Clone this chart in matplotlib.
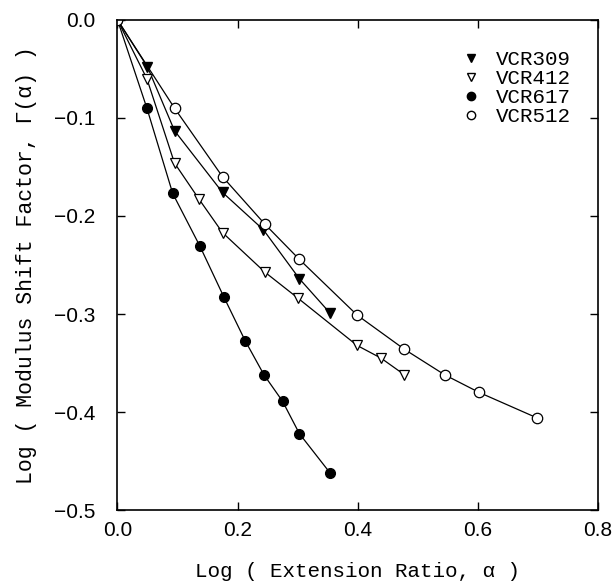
import matplotlib
matplotlib.use("Agg")
import matplotlib.pyplot as plt
from matplotlib.lines import Line2D

# data: log(extension ratio) vs log(modulus shift factor)
x_309 = [0.0, 0.050, 0.095, 0.175, 0.243, 0.303, 0.354]
y_309 = [0.0, -0.048, -0.113, -0.176, -0.214, -0.264, -0.299]

x_412 = [0.0, 0.049, 0.095, 0.136, 0.175, 0.245, 0.301, 0.399, 0.439, 0.478]
y_412 = [0.0, -0.060, -0.146, -0.183, -0.217, -0.257, -0.284, -0.332, -0.345, -0.362]

x_617 = [0.0, 0.049, 0.092, 0.1375, 0.1775, 0.2125, 0.244, 0.275, 0.303, 0.354]
y_617 = [0.0, -0.090, -0.177, -0.231, -0.283, -0.327, -0.362, -0.389, -0.422, -0.462]

x_512 = [0.0, 0.095, 0.175, 0.245, 0.3025, 0.399, 0.478, 0.545, 0.6025, 0.699]
y_512 = [0.0, -0.090, -0.160, -0.208, -0.244, -0.301, -0.336, -0.362, -0.380, -0.406]

labels = ['VCR309', 'VCR412', 'VCR617', 'VCR512']

mono = 'Liberation Mono'
sans = 'Liberation Sans'

fig = plt.figure(figsize=(6.15, 5.85), dpi=100)
ax = fig.add_axes([0.191, 0.128, 0.781, 0.838])

lw = 0.9
ms = 7
ax.plot(x_309, y_309, '-', color='k', lw=lw, marker='v', ms=ms, mfc='k', mec='k')
ax.plot(x_412, y_412, '-', color='k', lw=lw, marker='v', ms=ms, mfc='white', mec='k', mew=0.9)
ax.plot(x_617, y_617, '-', color='k', lw=lw, marker='o', ms=ms, mfc='k', mec='k')
ax.plot(x_512, y_512, '-', color='k', lw=lw, marker='o', ms=ms + 0.5, mfc='white', mec='k', mew=0.9)

ax.set_xlim(0.0, 0.8)
ax.set_ylim(-0.5, 0.0)
ax.set_xticks([0.0, 0.2, 0.4, 0.6, 0.8])
ax.set_yticks([0.0, -0.1, -0.2, -0.3, -0.4, -0.5])
ax.set_xticklabels(['0.0', '0.2', '0.4', '0.6', '0.8'], family=sans, fontsize=15)
ax.set_yticklabels(['0.0', '\u22120.1', '\u22120.2', '\u22120.3', '\u22120.4', '\u22120.5'],
                   family=sans, fontsize=15)
ax.tick_params(direction='in', top=True, right=True, length=6, width=1.0)
ax.tick_params(axis='x', pad=8)
ax.tick_params(axis='y', pad=16)
for s in ax.spines.values():
    s.set_linewidth(1.2)

ax.set_xlabel('Log ( Extension Ratio, \u03b1 )', family=mono, fontsize=15, labelpad=16)
ax.set_ylabel('Log ( Modulus Shift Factor, \u0393(\u03b1) )', family=mono, fontsize=15.5, labelpad=12)

handles = [
    Line2D([], [], ls='none', marker='v', ms=6, mfc='k', mec='k'),
    Line2D([], [], ls='none', marker='v', ms=6, mfc='white', mec='k'),
    Line2D([], [], ls='none', marker='o', ms=6, mfc='k', mec='k'),
    Line2D([], [], ls='none', marker='o', ms=6, mfc='white', mec='k'),
]
ax.legend(handles, labels, loc='upper right', bbox_to_anchor=(0.965, 0.96),
          frameon=False, prop={'family': mono, 'size': 15},
          handlelength=1.0, handletextpad=0.7, labelspacing=0.0, borderpad=0)

fig.savefig('out.png', dpi=100)
